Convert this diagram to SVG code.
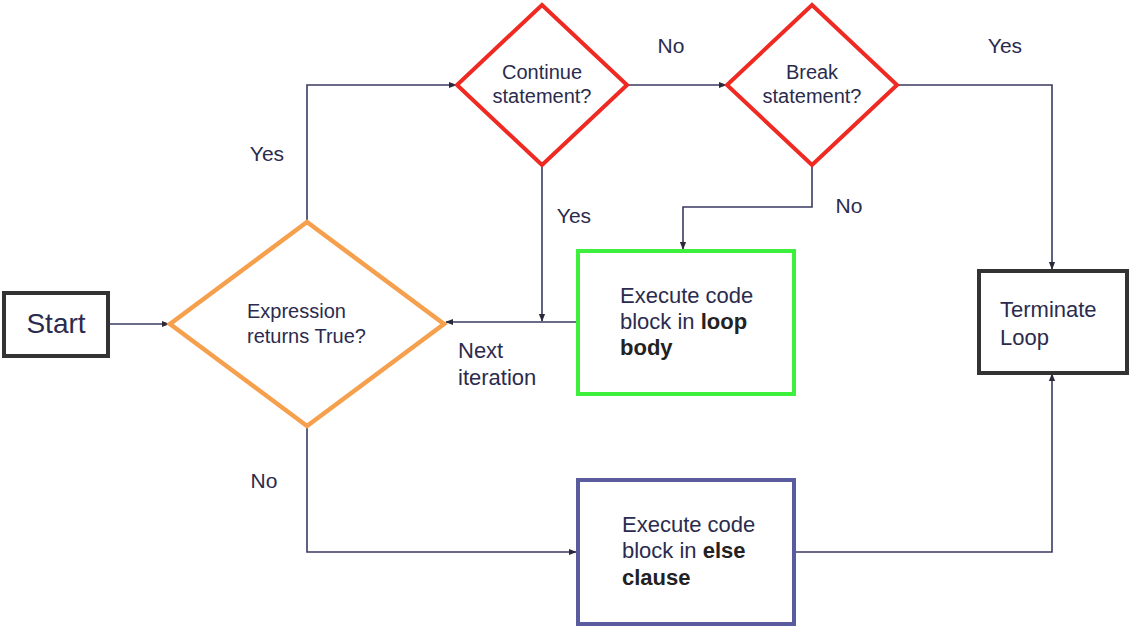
<svg xmlns="http://www.w3.org/2000/svg" width="1140" height="643" viewBox="0 0 1140 643">
<style>
text{font-family:"Liberation Sans",Arial,sans-serif;fill:#2b2b4e}
.t20{font-size:20px}
.t22{font-size:22px}
.lbl{font-size:21px}
.b{font-weight:bold;fill:#222}
.conn{fill:none;stroke:#3a3a62;stroke-width:1.6}
</style>
<defs>
<marker id="ah" viewBox="0 0 10 10" refX="9" refY="5" markerWidth="8" markerHeight="8" markerUnits="userSpaceOnUse" orient="auto">
<path d="M0,1 L10,5 L0,9 z" fill="#2a2a3a"/>
</marker>
</defs>
<rect width="1140" height="643" fill="#fff"/>
<g id="connectors">
<path class="conn" d="M109,324 H169" marker-end="url(#ah)"/>
<path class="conn" d="M307,222 V85 H456" marker-end="url(#ah)"/>
<path class="conn" d="M628,85 H726" marker-end="url(#ah)"/>
<path class="conn" d="M898,85 H1052 V269" marker-end="url(#ah)"/>
<path class="conn" d="M812,165 V207 H683 V249" marker-end="url(#ah)"/>
<path class="conn" d="M542,165 V321" marker-end="url(#ah)"/>
<path class="conn" d="M577,322 H446" marker-end="url(#ah)"/>
<path class="conn" d="M307,427 V552 H576" marker-end="url(#ah)"/>
<path class="conn" d="M795,552 H1052 V374" marker-end="url(#ah)"/>
<text class="lbl" x="267" y="161" text-anchor="middle">Yes</text>
<text class="lbl" x="671" y="53" text-anchor="middle">No</text>
<text class="lbl" x="1005" y="53" text-anchor="middle">Yes</text>
<text class="lbl" x="574" y="223" text-anchor="middle">Yes</text>
<text class="lbl" x="849" y="213" text-anchor="middle">No</text>
<text class="lbl" x="264" y="488" text-anchor="middle">No</text>
<text class="t22" x="458" y="358">Next</text>
<text class="t22" x="458" y="385">iteration</text>
</g>
<g id="start">
<rect x="4" y="293" width="104" height="63" fill="#fff" stroke="#333" stroke-width="4"/>
<text x="56" y="333" font-size="28" text-anchor="middle">Start</text>
</g>
<g id="expr">
<polygon points="307,222 444,324 307,426 170,324" fill="#fff" stroke="#f6a04d" stroke-width="4.5" stroke-linejoin="miter"/>
<text class="t20" x="247" y="318">Expression</text>
<text class="t20" x="247" y="343">returns True?</text>
</g>
<g id="continue">
<polygon points="542,5 627,85 542,165 457,85" fill="#fff" stroke="#ee2a22" stroke-width="4"/>
<text class="t20" x="542" y="79" text-anchor="middle">Continue</text>
<text class="t20" x="542" y="103" text-anchor="middle">statement?</text>
</g>
<g id="break">
<polygon points="812,5 897,85 812,165 727,85" fill="#fff" stroke="#ee2a22" stroke-width="4"/>
<text class="t20" x="812" y="79" text-anchor="middle">Break</text>
<text class="t20" x="812" y="103" text-anchor="middle">statement?</text>
</g>
<g id="loopbody">
<rect x="578" y="251" width="216" height="143" fill="#fff" stroke="#3ef03e" stroke-width="4"/>
<text class="t22" x="620" y="303">Execute code</text>
<text class="t22" x="620" y="329">block in <tspan class="b">loop</tspan></text>
<text class="t22 b" x="620" y="355">body</text>
</g>
<g id="terminate">
<rect x="979" y="271" width="148" height="102" fill="#fff" stroke="#333" stroke-width="4"/>
<text class="t22" x="1000" y="317">Terminate</text>
<text class="t22" x="1000" y="345">Loop</text>
</g>
<g id="else">
<rect x="578" y="480" width="216" height="144" fill="#fff" stroke="#5a5a9e" stroke-width="4"/>
<text class="t22" x="622" y="532">Execute code</text>
<text class="t22" x="622" y="558">block in <tspan class="b">else</tspan></text>
<text class="t22 b" x="622" y="585">clause</text>
</g>
</svg>
